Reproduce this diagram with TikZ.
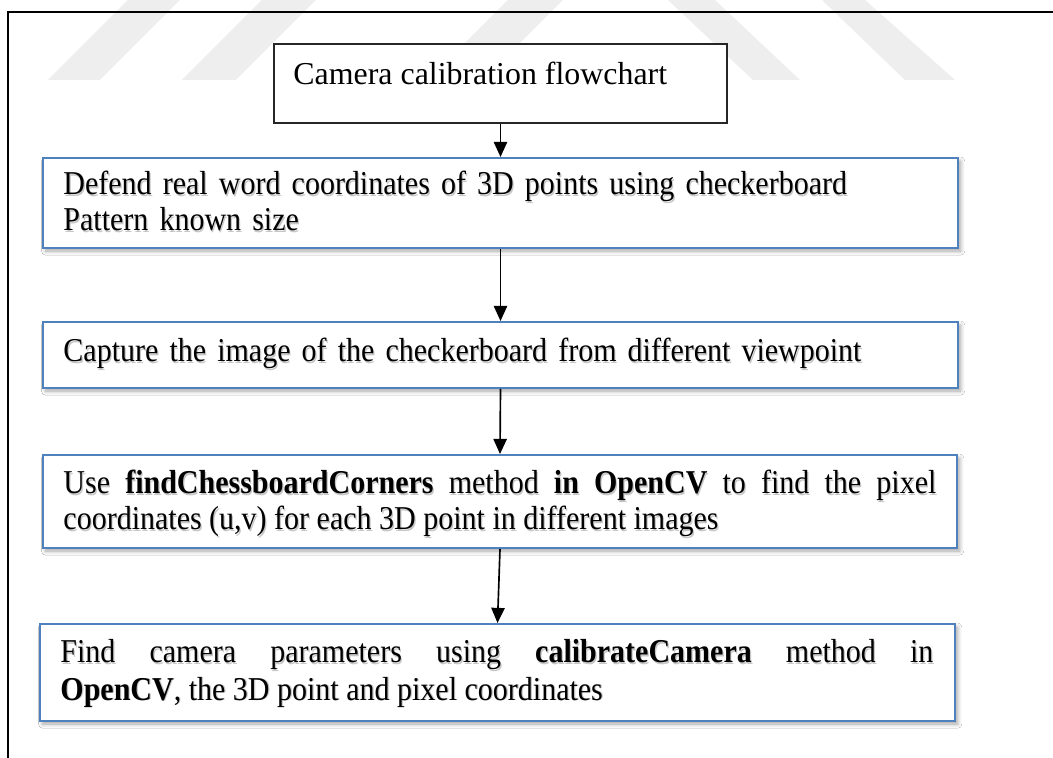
\documentclass[tikz,border=0pt]{standalone}
\usepackage{fontspec}
\setmainfont{Liberation Serif}
\newfontfamily\stepfont[FakeStretch=0.9]{Liberation Serif}
\usetikzlibrary{arrows.meta,fit,shadows.blur}
\definecolor{boxblue}{RGB}{79,129,189}
\definecolor{wmgray}{RGB}{238,238,238}

\newcommand\txtone{Defend real word coordinates of 3D points using checkerboard\\Pattern known size}
\newcommand\txttwo{Capture the image of the checkerboard from different viewpoint}
\newcommand\txtthree{Use \textbf{findChessboardCorners} method \textbf{in OpenCV} to find the pixel\linebreak coordinates (u,v) for each 3D point in different images}
\newcommand\txtfour{Find camera parameters using \textbf{calibrateCamera} method in\linebreak \textbf{OpenCV}, the 3D point and pixel coordinates}

\begin{document}
\begin{tikzpicture}[x=0.45pt,y=-0.45pt,
  frameline/.style={line width=0.9pt, black},
  titlebox/.style={draw=black!85, line width=0.5pt, fill=white, inner sep=0pt},
  stepbox/.style={draw=boxblue, line width=0.9pt, fill=white, inner sep=0pt,
    blur shadow={shadow xshift=1.2pt, shadow yshift=-1.4pt, shadow blur steps=6, shadow opacity=35}},
  plaintext/.style={anchor=base west, inner sep=0pt, font=\fontsize{14.35}{16}\selectfont},
  boxtext/.style={anchor=base west, inner sep=0pt, text width=405pt, align=left,
    font=\stepfont\fontsize{15}{16}\selectfont},
  justtext/.style={boxtext, text width=392.85pt, align=justify},
  textshade/.style={text=black!22},
  flow/.style={-{Triangle[width=6pt,length=6.8pt]}, line width=0.75pt, black}
]
\useasboundingbox (0,0) rectangle (1053,758);
\fill[white] (0,0) rectangle (1053,758);

% faint striped emblem in the header
\fill[wmgray] (48,80) -- (100,80) -- (180,0) -- (128,0) -- cycle;
\fill[wmgray] (182,80) -- (236,80) -- (316,0) -- (262,0) -- cycle;
\fill[wmgray] (428,80) -- (483,80) -- (563,0) -- (508,0) -- cycle;
\fill[wmgray] (668,0) -- (715,0) -- (800,80) -- (753,80) -- cycle;
\fill[wmgray] (822,0) -- (865,0) -- (955,80) -- (905,80) -- cycle;

% page frame (left and top)
\draw[frameline] (8,758) -- (8,12) -- (1053,12);

% boxes
\node[titlebox, fit={(274,44)(727,123)}] (t0) {};
\node[stepbox, fit={(43,158)(958,248)}] (b1) {};
\node[stepbox, fit={(43,322)(958,388)}] (b2) {};
\node[stepbox, fit={(43,455)(957,548)}] (b3) {};
\node[stepbox, fit={(40,624)(955,721)}] (b4) {};

% texts
\node[plaintext] (ttl) at (293,85) {Camera calibration flowchart};

\node[boxtext, textshade] at (64.2,196.6) {\txtone};
\node[boxtext] (s1) at (63,195) {\txtone};
\node[boxtext, textshade] at (64.2,363.6) {\txttwo};
\node[boxtext] (s2) at (63,362) {\txttwo};
\node[justtext, textshade] at (64.2,495.6) {\txtthree};
\node[justtext] (s3) at (63,494) {\txtthree};
\node[justtext, textshade] at (61.2,664.6) {\txtfour};
\node[justtext, font=\stepfont\fontsize{15}{17}\selectfont] (s4) at (60,663) {\txtfour};

% connectors
\draw[flow] (t0.south) -- (b1.north);
\draw[flow] (b1.south) -- (b2.north);
\draw[flow] (b2.south) -- (b3.north);
\draw[flow] (b3.south) -- (b4.north);
\end{tikzpicture}
\end{document}
